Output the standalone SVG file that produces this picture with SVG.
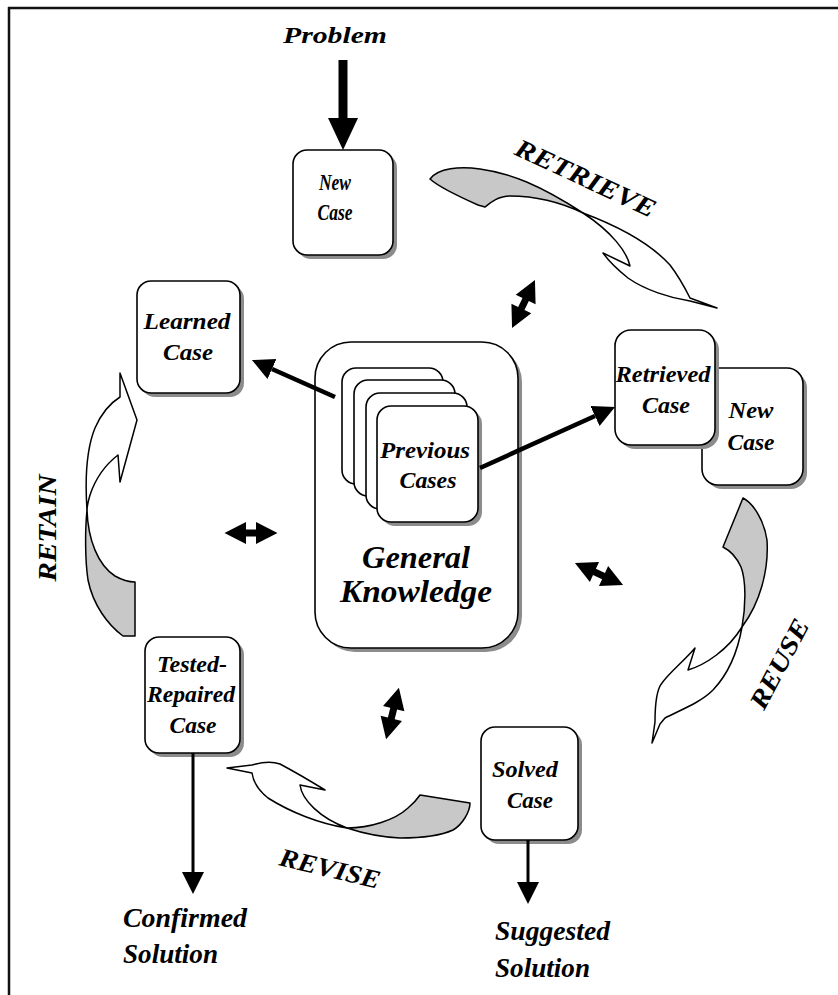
<svg xmlns="http://www.w3.org/2000/svg" width="838" height="995" viewBox="0 0 838 995">
  <defs>
    <style>
      .box { fill: #ffffff; stroke: #000000; stroke-width: 1.6; }
      .shadow { fill: #8c8c8c; }
      .lbl { font-family: "Liberation Serif", "Times New Roman", serif; font-weight: bold; font-style: italic; fill: #000000; }
      .box-text { font-size: 24px; text-anchor: middle; }
      .phase { font-size: 26px; text-anchor: middle; }
      .conn { stroke: #000000; fill: none; }
      .ribbon-back { fill: #c8c8c8; stroke: #000000; stroke-width: 1.5; stroke-linejoin: round; }
      .ribbon-front { fill: #ffffff; stroke: #000000; stroke-width: 1.5; stroke-linejoin: round; }
      .dbl { fill: #000000; }
    </style>
    <marker id="head" markerUnits="userSpaceOnUse" markerWidth="24" markerHeight="24" refX="0" refY="11" orient="auto">
      <path d="M0,0 L22,11 L0,22 Z" fill="#000000"/>
    </marker>
    <marker id="head-big" markerUnits="userSpaceOnUse" markerWidth="34" markerHeight="32" refX="0" refY="15" orient="auto">
      <path d="M0,0 L32,15 L0,30 Z" fill="#000000"/>
    </marker>
    <!-- double-headed link glyph, 53px long, centred on the origin -->
    <path id="dbl-arrow" d="M-26.5,0 L-5,-11 L-5,-3.5 L5,-3.5 L5,-11 L26.5,0 L5,11 L5,3.5 L-5,3.5 L-5,11 Z"/>
  </defs>

  <rect width="838" height="995" fill="#ffffff"/>

  <!-- frame -->
  <g id="frame" stroke="#111111" stroke-width="2.5" fill="none">
    <line x1="8" y1="8" x2="838" y2="8"/>
    <line x1="9" y1="7" x2="9" y2="995"/>
  </g>

  <!-- cycle phase ribbons -->
  <g id="phase-arrows">
    <g id="retrieve-arrow">
      <path class="ribbon-back" d="M430,179 C438,168 460,166 480,169 C510,173 540,185 583,213 C560,202 535,196 510,196 C498,196 490,203 485,207 L478,205 C460,197 440,188 430,179 Z"/>
      <path class="ribbon-front" d="M583,213 C615,225 650,243 670,265 C680,278 686,290 690,298 L717,308 L690,301 C670,298 645,290 628,278 C618,270 608,260 603,253 L630,266 C627,252 612,232 583,213 Z"/>
    </g>
    <g id="reuse-arrow">
      <path class="ribbon-back" d="M743,498 C753,503 764,520 767,540 C769,570 760,603 742,627 C746,605 746,580 741,567 C736,556 729,550 723,547 L743,498 Z"/>
      <path class="ribbon-front" d="M742,627 C738,650 730,672 713,690 C700,703 680,710 665,718 L660,724 L652,743 L655,722 C655,705 656,690 662,683 C670,672 685,660 695,648 L688,670 C705,665 728,650 742,627 Z"/>
    </g>
    <g id="revise-arrow">
      <path class="ribbon-back" d="M420,795 L470,803 C470,812 462,825 453,830 C440,836 420,838 400,838 C380,837 362,833 347,828 C370,828 395,820 408,808 C414,803 418,798 420,795 Z"/>
      <path class="ribbon-front" d="M347,828 C320,824 290,812 268,798 C258,790 253,780 252,773 L227,768 L252,765 C262,762 272,761 280,764 C295,772 312,782 325,790 L300,785 C302,800 320,818 347,828 Z"/>
    </g>
    <g id="retain-arrow">
      <path class="ribbon-back" d="M135,582 L135,636 L123,636 C108,625 93,605 88,580 C85,560 85,530 87,510 C88,540 98,565 115,576 C122,580 130,582 135,582 Z"/>
      <path class="ribbon-front" d="M87,510 C85,480 86,450 95,428 C102,412 112,402 120,397 L120,373 L137,420 L120,482 L118,455 C105,465 95,480 90,495 C88,502 87,507 87,510 Z"/>
    </g>
  </g>

  <!-- phase labels -->
  <g id="phase-labels" class="lbl">
    <text class="phase" transform="translate(582,186) rotate(25)" textLength="152" lengthAdjust="spacingAndGlyphs">RETRIEVE</text>
    <text class="phase" transform="translate(787,668) rotate(-62)" textLength="98" lengthAdjust="spacingAndGlyphs">REUSE</text>
    <text class="phase" transform="translate(328,877) rotate(13.4)" textLength="103" lengthAdjust="spacingAndGlyphs">REVISE</text>
    <text class="phase" transform="translate(56,528) rotate(-90)" textLength="107" lengthAdjust="spacingAndGlyphs">RETAIN</text>
  </g>

  <!-- nodes -->
  <g id="problem" class="lbl">
    <text x="335" y="43" font-size="24" text-anchor="middle" textLength="104" lengthAdjust="spacingAndGlyphs">Problem</text>
  </g>

  <g id="new-case">
    <rect class="shadow" x="297" y="154" width="100" height="105" rx="14"/>
    <rect class="box" x="293" y="150" width="100" height="105" rx="14"/>
    <g class="lbl">
      <text x="335" y="190" font-size="23" text-anchor="middle" textLength="32" lengthAdjust="spacingAndGlyphs">New</text>
      <text x="335" y="220" font-size="23" text-anchor="middle" textLength="35" lengthAdjust="spacingAndGlyphs">Case</text>
    </g>
  </g>

  <g id="learned-case">
    <rect class="shadow" x="141" y="285" width="103" height="112" rx="14"/>
    <rect class="box" x="137" y="281" width="103" height="112" rx="14"/>
    <g class="lbl box-text">
      <text x="187" y="329" textLength="87" lengthAdjust="spacingAndGlyphs">Learned</text>
      <text x="188" y="360" textLength="50" lengthAdjust="spacingAndGlyphs">Case</text>
    </g>
  </g>

  <g id="general-knowledge">
    <rect class="shadow" x="319" y="346" width="203" height="306" rx="36"/>
    <rect class="box" x="315" y="342" width="203" height="306" rx="36"/>
    <g class="lbl" text-anchor="middle">
      <text x="416" y="568" font-size="31" textLength="108" lengthAdjust="spacingAndGlyphs">General</text>
      <text x="416" y="602" font-size="32" textLength="152" lengthAdjust="spacingAndGlyphs">Knowledge</text>
    </g>
  </g>

  <g id="previous-cases">
    <rect class="box" x="342" y="368" width="101" height="116" rx="14"/>
    <rect class="box" x="354" y="380" width="101" height="116" rx="14"/>
    <rect class="box" x="366" y="393" width="101" height="116" rx="14"/>
    <rect class="shadow" x="381" y="410" width="101" height="116" rx="14"/>
    <rect class="box" x="377" y="406" width="101" height="116" rx="14"/>
    <g class="lbl box-text">
      <text x="425" y="458" textLength="90" lengthAdjust="spacingAndGlyphs">Previous</text>
      <text x="428" y="488" textLength="57" lengthAdjust="spacingAndGlyphs">Cases</text>
    </g>
  </g>

  <g id="new-case-paired">
    <rect class="shadow" x="706" y="372" width="101" height="117" rx="16"/>
    <rect class="box" x="702" y="368" width="101" height="117" rx="16"/>
    <g class="lbl box-text">
      <text x="751" y="418" textLength="45" lengthAdjust="spacingAndGlyphs">New</text>
      <text x="751" y="450" textLength="47" lengthAdjust="spacingAndGlyphs">Case</text>
    </g>
  </g>

  <g id="retrieved-case">
    <rect class="shadow" x="619" y="334" width="100" height="115" rx="16"/>
    <rect class="box" x="615" y="330" width="100" height="115" rx="16"/>
    <g class="lbl box-text">
      <text x="663" y="382" textLength="95" lengthAdjust="spacingAndGlyphs">Retrieved</text>
      <text x="666" y="413" textLength="48" lengthAdjust="spacingAndGlyphs">Case</text>
    </g>
  </g>

  <g id="tested-repaired-case">
    <rect class="shadow" x="149" y="641" width="95" height="116" rx="14"/>
    <rect class="box" x="145" y="637" width="95" height="116" rx="14"/>
    <g class="lbl box-text">
      <text x="192" y="672" textLength="70" lengthAdjust="spacingAndGlyphs">Tested-</text>
      <text x="191" y="702" textLength="88" lengthAdjust="spacingAndGlyphs">Repaired</text>
      <text x="193" y="733" textLength="47" lengthAdjust="spacingAndGlyphs">Case</text>
    </g>
  </g>

  <g id="solved-case">
    <rect class="shadow" x="485" y="731" width="97" height="113" rx="14"/>
    <rect class="box" x="481" y="727" width="97" height="113" rx="14"/>
    <g class="lbl box-text">
      <text x="525" y="777" textLength="66" lengthAdjust="spacingAndGlyphs">Solved</text>
      <text x="530" y="808" textLength="46" lengthAdjust="spacingAndGlyphs">Case</text>
    </g>
  </g>

  <g id="confirmed-solution" class="lbl" font-size="27">
    <text x="123" y="927" textLength="124" lengthAdjust="spacingAndGlyphs">Confirmed</text>
    <text x="123" y="963" textLength="95" lengthAdjust="spacingAndGlyphs">Solution</text>
  </g>

  <g id="suggested-solution" class="lbl" font-size="27">
    <text x="495" y="940" textLength="115" lengthAdjust="spacingAndGlyphs">Suggested</text>
    <text x="495" y="977" textLength="95" lengthAdjust="spacingAndGlyphs">Solution</text>
  </g>

  <!-- connectors -->
  <g id="connectors">
    <line class="conn" x1="343" y1="60" x2="343" y2="118" stroke-width="9" marker-end="url(#head-big)"/>
    <line class="conn" x1="480" y1="468" x2="595" y2="416" stroke-width="4.5" marker-end="url(#head)"/>
    <line class="conn" x1="335" y1="397" x2="272" y2="369" stroke-width="4.5" marker-end="url(#head)"/>
    <line class="conn" x1="193" y1="753" x2="193" y2="872" stroke-width="3" marker-end="url(#head)"/>
    <line class="conn" x1="528" y1="840" x2="528" y2="882" stroke-width="3" marker-end="url(#head)"/>
    <!-- two-way links to general knowledge -->
    <use href="#dbl-arrow" class="dbl" transform="translate(523.5,304) rotate(115.6)"/>
    <use href="#dbl-arrow" class="dbl" transform="translate(251,533)"/>
    <use href="#dbl-arrow" class="dbl" transform="translate(599,574) rotate(24.6)"/>
    <use href="#dbl-arrow" class="dbl" transform="translate(392.5,713.5) rotate(104)"/>
  </g>
</svg>
